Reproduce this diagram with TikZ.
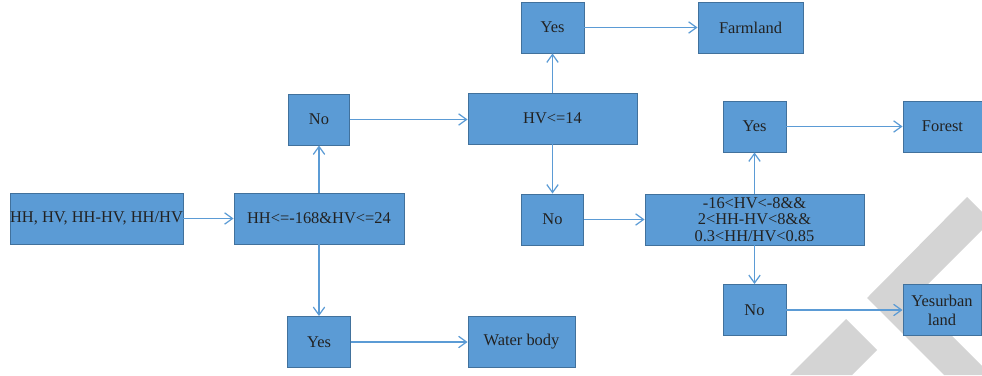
\documentclass[tikz,border=0pt]{standalone}
\usepackage{fontspec}
\setmainfont{Liberation Serif}
\usepackage{tikz}
\usetikzlibrary{arrows.meta}
\usepackage{xcolor}
\definecolor{boxblue}{HTML}{5B9BD5}
\definecolor{boxedge}{HTML}{41719C}
\definecolor{txtgray}{HTML}{222222}
\definecolor{markgray}{HTML}{D4D4D4}

\begin{document}
\begin{tikzpicture}[x=0.02cm,y=-0.02cm,
    box/.style={draw=boxedge,fill=boxblue,line width=0.55pt,minimum height=1.02cm,
      inner xsep=0pt,inner ysep=1pt,align=center,text=txtgray,
      font=\fontsize{9.35}{9.4}\selectfont},
    arr/.style={draw=boxblue,line width=0.7pt,-{Straight Barb[length=4.5pt,width=6.5pt]}}]
  \useasboundingbox (0,0) rectangle (982,375);
  % watermark
  \begin{scope}
    \clip (0,0) rectangle (982,375);
    \fill[markgray] (967,197)--(991,221)--(914,298)--(991,375)--(944,375)--(867,298)--cycle;
    \fill[markgray] (846,319)--(877,350)--(852,375)--(790,375)--cycle;
  \end{scope}
  % boxes
  \node[box,minimum width=3.46cm] (src) at (96.5,218.5) {HH, HV, HH-HV, HH/HV};
  \node[box,minimum width=3.40cm] (c1) at (319,218.5) {HH<=-168\&HV<=24};
  \node[box,minimum width=1.22cm] (no1) at (319,119.5) {No};
  \node[box,minimum width=1.26cm] (yes1) at (319,342) {Yes};
  \node[box,minimum width=2.14cm] (water) at (521.5,342) {Water body};
  \node[box,minimum width=3.38cm] (c2) at (552.5,118.5) {HV<=14};
  \node[box,minimum width=1.26cm] (yes2) at (552.5,27.5) {Yes};
  \node[box,minimum width=2.10cm] (farm) at (750.5,27.5) {Farmland};
  \node[box,minimum width=1.24cm] (no2) at (552.5,219.5) {No};
  \node[box,minimum width=4.38cm] (c3) at (754.5,219.5) {-16<HV<-8\&\&\\2<HH-HV<8\&\&\\0.3<HH/HV<0.85};
  \node[box,minimum width=1.26cm] (yes3) at (754.5,126.5) {Yes};
  \node[box,minimum width=1.58cm] (forest) at (942.5,126.5) {Forest};
  \node[box,minimum width=1.26cm] (no3) at (754.5,310) {No};
  \node[box,minimum width=1.56cm] (urban) at (942,310) {Yesurban\\[1.5pt]land};
  % arrows
  \draw[arr] (src) -- (c1);
  \draw[arr] (c1) -- (no1);
  \draw[arr] (c1) -- (yes1);
  \draw[arr] (yes1) -- (water);
  \draw[arr] (no1.east) -- (no1.east -| c2.west);
  \draw[arr] (c2) -- (yes2);
  \draw[arr] (yes2) -- (farm);
  \draw[arr] (c2) -- (no2);
  \draw[arr] (no2) -- (c3);
  \draw[arr] (c3) -- (yes3);
  \draw[arr] (yes3) -- (forest);
  \draw[arr] (c3) -- (no3);
  \draw[arr] (no3) -- (urban);
\end{tikzpicture}
\end{document}
